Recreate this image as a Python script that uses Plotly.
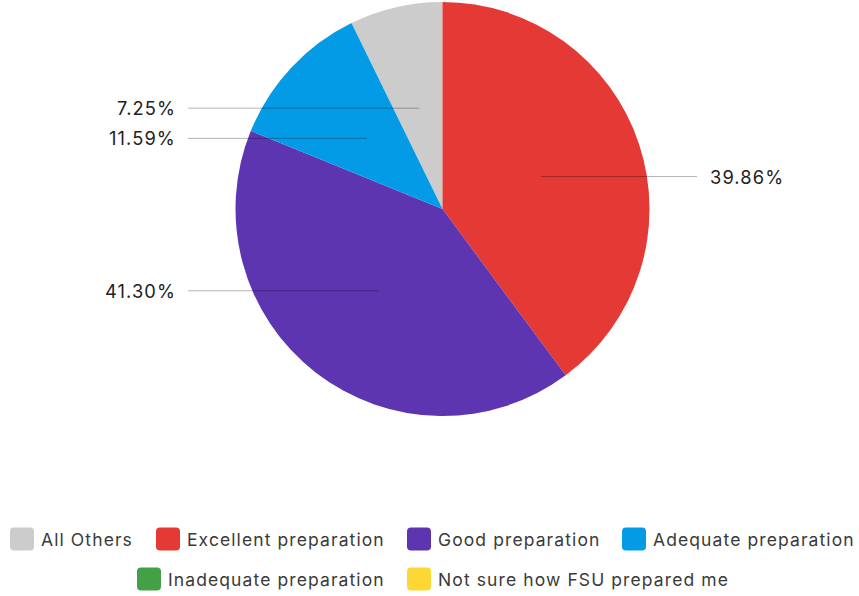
import math
import plotly.graph_objects as go

# ---- data ----
categories = ["All Others", "Excellent preparation", "Good preparation",
              "Adequate preparation", "Inadequate preparation", "Not sure how FSU prepared me"]
counts = [10, 55, 57, 16, 0, 0]
colors = ["#cccccc", "#e53935", "#5e35b1", "#039be5", "#43a047", "#fdd835"]

# ---- layout constants (pixels) ----
W, H = 859, 596
CX, CY, R = 442.5, 209.0, 207.0
LEFT_LINE_END, RIGHT_LINE_END = 188, 697
LEFT_TEXT_X, RIGHT_TEXT_X = 178, 708
LEG_POS = [(10, 539), (156, 539), (407, 539), (622, 539), (137, 579), (407, 579)]
SW_W, SW_H, SW_R = 24, 23, 4
FONT = "Inter"
SPACING = "1.1px"

def px(x):
    return x / W

def py(y):
    return 1 - y / H

def spaced(t):
    return f'<span style="letter-spacing:{SPACING}">{t}</span>'

total = sum(counts)
rotation = -360.0 * counts[0] / total

fig = go.Figure(go.Pie(
    labels=categories, values=counts, sort=False, direction="clockwise",
    rotation=rotation, marker=dict(colors=colors, line=dict(width=0)),
    textinfo="none", hoverinfo="label+percent", showlegend=False,
    domain=dict(x=[px(CX - R), px(CX + R)], y=[py(CY + R), py(CY - R)]),
))

shapes = []
annotations = []
cum = 0
for lab, v in zip(categories, counts):
    if v > 0:
        mid = rotation + 360.0 * (cum + v / 2) / total
        a = math.radians(mid)
        sx = CX + 0.5 * R * math.sin(a)
        sy = CY - 0.5 * R * math.cos(a)
        pct = "%.2f%%" % (100.0 * v / total)
        if math.sin(a) >= 0:
            ex, tx, anc = RIGHT_LINE_END, RIGHT_TEXT_X, "left"
        else:
            ex, tx, anc = LEFT_LINE_END, LEFT_TEXT_X, "right"
        shapes.append(dict(type="line", xref="paper", yref="paper",
                           x0=px(sx), y0=py(sy), x1=px(ex), y1=py(sy),
                           line=dict(color="rgba(0,0,0,0.3)", width=1)))
        annotations.append(dict(xref="paper", yref="paper", x=px(tx), y=py(sy),
                                text=spaced(pct), showarrow=False, xanchor=anc, yanchor="middle",
                                font=dict(family=FONT, size=18.3, color="#222222")))
    cum += v

# manual legend
for (lx, ly), lab, col in zip(LEG_POS, categories, colors):
    x0, x1 = lx, lx + SW_W
    y0, y1 = ly - SW_H / 2, ly + SW_H / 2
    r = SW_R
    path = (f"M {px(x0 + r)},{py(y0)} L {px(x1 - r)},{py(y0)} Q {px(x1)},{py(y0)} {px(x1)},{py(y0 + r)} "
            f"L {px(x1)},{py(y1 - r)} Q {px(x1)},{py(y1)} {px(x1 - r)},{py(y1)} "
            f"L {px(x0 + r)},{py(y1)} Q {px(x0)},{py(y1)} {px(x0)},{py(y1 - r)} "
            f"L {px(x0)},{py(y0 + r)} Q {px(x0)},{py(y0)} {px(x0 + r)},{py(y0)} Z")
    shapes.append(dict(type="path", xref="paper", yref="paper", path=path,
                       fillcolor=col, line=dict(width=0)))
    annotations.append(dict(xref="paper", yref="paper", x=px(x1 + 5), y=py(ly),
                            text=spaced(lab), showarrow=False, xanchor="left", yanchor="middle",
                            font=dict(family=FONT, size=17.5, color="#3a3a3a")))

fig.update_layout(
    width=W, height=H, margin=dict(l=0, r=0, t=0, b=0),
    paper_bgcolor="white", plot_bgcolor="white",
    shapes=shapes, annotations=annotations, showlegend=False,
)

fig.write_html("out.html", config={"displayModeBar": False},
               post_script="document.body.style.margin='0';document.body.style.overflow='hidden';")
